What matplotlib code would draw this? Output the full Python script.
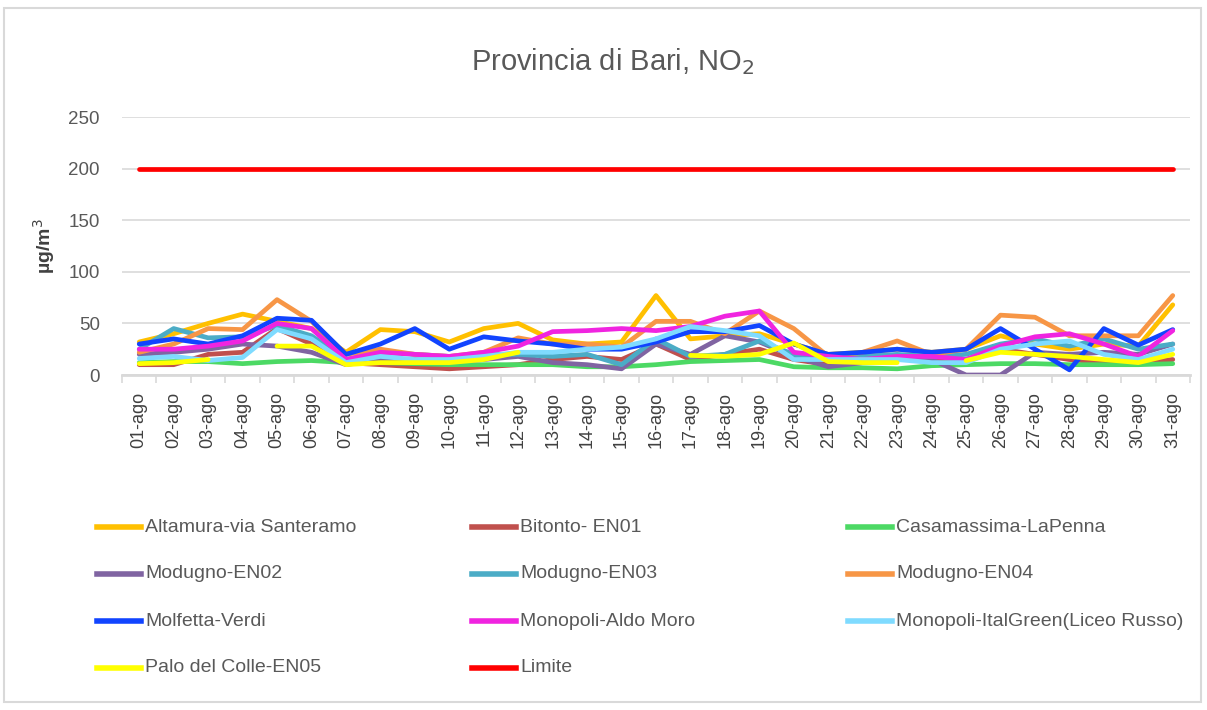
import numpy as np
import matplotlib
matplotlib.use("Agg")
import matplotlib.pyplot as plt
from matplotlib.lines import Line2D
from matplotlib.patches import Rectangle

nan = np.nan
days = [f"{d:02d}-ago" for d in range(1, 32)]

altamura = [32, 40, 50, 59, 52, 45, 22, 44, 42, 32, 45, 50, 34, 30, 32, 77, 35, 38, 40, 30,
            20, 22, 25, 22, 25, 38, 30, 25, 30, 28, 68]
bitonto = [10, 10, 20, 22, 45, 30, 12, 10, 8, 6, 8, 10, 15, 18, 15, 30, 15, 20, 25, 15,
           10, 12, 15, 15, 15, 25, 20, 15, 12, 12, 15]
casamassima = [12, 13, 13, 11, 13, 14, 12, 12, 11, 10, 10, 10, 10, 8, 8, 10, 13, 14, 15, 8,
               7, 7, 6, 9, 10, 11, 11, 10, 10, 10, 11]
modugno_en02 = [20, 22, 25, 30, 28, 22, 10, 15, 15, 13, 15, 18, 12, 10, 6, 30, 20, 38, 32, 18,
                8, 12, 18, 15, 0, 0, 22, 20, 22, 20, 30]
modugno_en03 = [25, 45, 36, 37, 48, 38, 15, 22, 20, 18, 20, 20, 18, 20, 10, 35, 18, 20, 33, 20,
                15, 18, 20, 18, 20, 30, 35, 28, 35, 25, 30]
modugno_en04 = [22, 30, 45, 44, 73, 52, 20, 25, 20, 18, 22, 36, 30, 30, 27, 52, 52, 40, 62, 45,
                18, 22, 33, 20, 25, 58, 56, 38, 38, 38, 77]
molfetta = [30, 35, 30, 38, 55, 53, 20, 30, 45, 25, 37, 33, 30, 25, 25, 32, 42, 42, 48, 30,
            20, 22, 25, 22, 25, 45, 25, 5, 45, 29, 44]
monopoli_aldo_moro = [25, 25, 28, 33, 50, 45, 15, 22, 20, 18, 22, 28, 42, 43, 45, 43, 47, 57, 62, 22,
                      18, 15, 18, 18, 15, 28, 37, 40, 30, 18, 43]
monopoli_italgreen = [16, 18, 14, 17, 44, 35, 12, 18, 15, 15, 18, 22, 22, 25, 27, 35, 47, 43, 38, 15,
                      15, 15, 15, 12, 12, 25, 30, 33, 20, 15, 25]
palo_del_colle = [11, 12, 15, nan, 28, 28, 10, 12, 12, 12, 15, 22, nan, nan, nan, nan, 19, 18, 20, 31,
                  13, 12, 12, nan, 14, 22, 20, 18, 15, 12, 20]
limite = [200] * 31

series = [
    ("Altamura-via Santeramo", altamura, "#FFC000"),
    ("Bitonto- EN01", bitonto, "#C0504D"),
    ("Casamassima-LaPenna", casamassima, "#4CD964"),
    ("Modugno-EN02", modugno_en02, "#8064A2"),
    ("Modugno-EN03", modugno_en03, "#4BACC6"),
    ("Modugno-EN04", modugno_en04, "#F79646"),
    ("Molfetta-Verdi", molfetta, "#1144FF"),
    ("Monopoli-Aldo Moro", monopoli_aldo_moro, "#F024E0"),
    ("Monopoli-ItalGreen(Liceo Russo)", monopoli_italgreen, "#7FDBFF"),
    ("Palo del Colle-EN05", palo_del_colle, "#FFFF00"),
    ("Limite", limite, "#FF0000"),
]

plt.rcParams['font.family'] = ['Liberation Sans', 'DejaVu Sans']

W, H = 1207, 710
fig = plt.figure(figsize=(W / 100, H / 100), dpi=100)
fig.patches.append(Rectangle((4 / W, 8 / H), (W - 10) / W, (H - 16) / H, transform=fig.transFigure,
                             fill=False, edgecolor="#D9D9D9", linewidth=1.5))

ax = fig.add_axes([122 / W, 1 - 375 / H, (1190 - 122) / W, (375 - 117) / H])
x = np.arange(len(days))
for name, vals, col in series:
    ax.plot(x, np.array(vals, dtype=float), color=col, lw=3.4, solid_joinstyle='round',
            solid_capstyle='round')

ax.set_xlim(-0.5, 30.5)
ax.set_ylim(0, 250)
ax.set_yticks([0, 50, 100, 150, 200, 250])
ax.grid(axis='y', color='#D9D9D9', lw=1.2)
ax.set_axisbelow(True)
for s in ['top', 'right', 'left']:
    ax.spines[s].set_visible(False)
ax.spines['bottom'].set_color('#D9D9D9')
ax.spines['bottom'].set_linewidth(2)
ax.tick_params(axis='y', length=0, labelsize=13.5, labelcolor='#595959', pad=16)
ax.set_xticks(x)
ax.set_xticklabels(days, rotation=90, fontsize=13, color='#404040')
ax.set_xticks(np.arange(-0.5, 31, 1), minor=True)
ax.tick_params(axis='x', which='major', length=0, pad=12)
ax.tick_params(axis='x', which='minor', length=6, color='#D9D9D9', width=1.2)

ax.set_ylabel("µg/m$^3$", fontsize=14, color='#404040', fontweight='bold', labelpad=8)

fig.text(613 / W, 1 - 62 / H, "Provincia di Bari, NO$_2$", ha='center', va='center',
         fontsize=21, color='#595959')

# legend
col_x = [97, 472, 848]
row_y = [527, 574, 621, 668]
for i, (name, vals, col) in enumerate(series):
    r, c = divmod(i, 3)
    xx = col_x[c]
    yy = row_y[r]
    fig.add_artist(Line2D([xx / W, (xx + 44) / W], [1 - yy / H, 1 - yy / H], color=col, lw=4,
                          transform=fig.transFigure))
    fig.text((xx + 48) / W, 1 - yy / H, name, ha='left', va='center', fontsize=14, color='#595959')

fig.savefig("out.png", dpi=100)
